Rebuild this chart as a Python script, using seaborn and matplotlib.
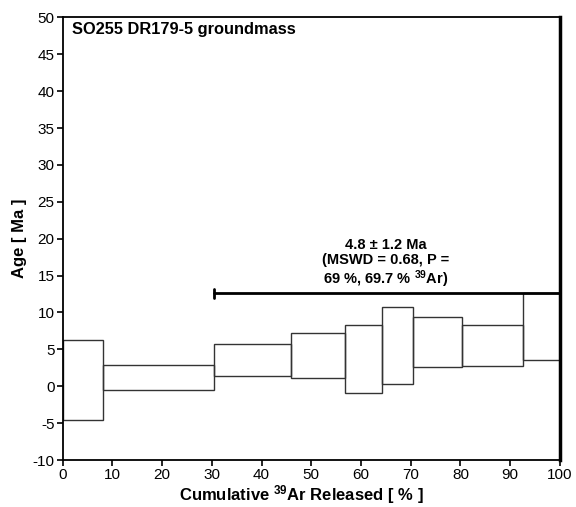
import matplotlib
matplotlib.use("Agg")
import matplotlib.pyplot as plt
import seaborn as sns
import pandas as pd

# Step boundaries (cumulative 39Ar released, %)
step_left = [0.0, 8.0, 30.35, 46.0, 56.7, 64.2, 70.5, 80.3, 92.5]
step_right = [8.0, 30.35, 46.0, 56.7, 64.2, 70.5, 80.3, 92.5, 100.0]
age_low = [-4.6, -0.5, 1.4, 1.15, -0.85, 0.25, 2.6, 2.73, 3.5]
age_high = [6.2, 2.9, 5.7, 7.25, 8.35, 10.75, 9.45, 8.28, 12.6]

plateau_x = [30.35, 100.0]
plateau_y = [12.6, 12.6]

sample_label = "SO255 DR179-5 groundmass"
plateau_text = "4.8 ± 1.2 Ma\n(MSWD = 0.68, P =\n69 %, 69.7 % $^{39}$Ar)"

sns.set_style("ticks")
plt.rcParams['font.family'] = ['Liberation Sans', 'DejaVu Sans']
plt.rcParams['axes.unicode_minus'] = False
plt.rcParams['mathtext.default'] = 'regular'
plt.rcParams['text.color'] = 'black'
plt.rcParams['axes.labelcolor'] = 'black'
plt.rcParams['xtick.color'] = 'black'
plt.rcParams['ytick.color'] = 'black'

df = pd.DataFrame({"left": step_left, "right": step_right, "low": age_low, "high": age_high})
df["width"] = df["right"] - df["left"]
df["height"] = df["high"] - df["low"]

fig = plt.figure(figsize=(5.76, 5.07), dpi=100)
ax = fig.add_axes([0.109, 0.0927, 0.863, 0.873])

ax.bar(df["left"], df["height"], width=df["width"], bottom=df["low"], align="edge",
       fill=False, edgecolor="#333333", linewidth=1.0, zorder=2)

pl = pd.DataFrame({"x": plateau_x, "y": plateau_y})
sns.lineplot(data=pl, x="x", y="y", ax=ax, color="black", linewidth=2.0, zorder=3)
ax.plot([plateau_x[0], plateau_x[0]], [plateau_y[0] - 0.6, plateau_y[0] + 0.6],
        color="black", linewidth=2.0, zorder=3)

ax.set_xlim(0, 100)
ax.set_ylim(-10, 50)
ax.set_xticks(range(0, 101, 10))
ax.set_yticks(range(-10, 51, 5))
ax.tick_params(axis="both", direction="out", length=4, width=1.2, labelsize=11,
               colors="black", pad=2)
for s in ["left", "bottom", "top"]:
    ax.spines[s].set_linewidth(1.3)
    ax.spines[s].set_color("black")
ax.spines["right"].set_linewidth(2.5)
ax.spines["right"].set_color("black")
ax.spines["top"].set_visible(True)
ax.spines["right"].set_visible(True)

ax.set_xlabel("Cumulative $^{39}$Ar Released [ % ]", fontsize=12, fontweight="bold")
ax.xaxis.set_label_coords(0.479, -0.053)
ax.set_ylabel("Age [ Ma ]", fontsize=12, fontweight="bold", labelpad=4)

ax.text(1.9, 49.4, sample_label, fontsize=11.8, fontweight="bold", ha="left", va="top")
ax.text(65.0, 16.6, plateau_text, fontsize=10.5, fontweight="bold", ha="center", va="center",
        linespacing=1.1)

fig.savefig("out.png", dpi=100)
